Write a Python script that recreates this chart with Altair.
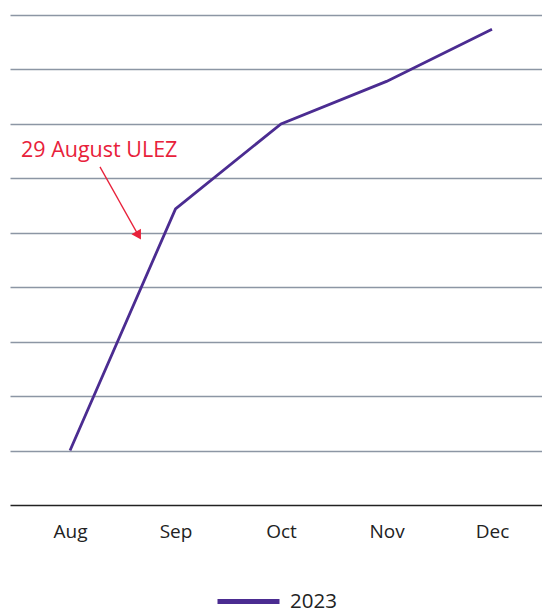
import altair as alt
import pandas as pd
import json

months = ["Aug", "Sep", "Oct", "Nov", "Dec"]
values = [1.0, 5.44, 7.0, 7.78, 8.74]
series = ["2023"] * 5

note_text = ["29 August ULEZ"]
note_x = [-0.465]
note_y = [6.39]

arrow_x = [0.284]
arrow_y = [6.21]
arrow_x2 = [0.655]
arrow_y2 = [4.93]
head_x = [0.650]
head_y = [4.95]

PURPLE = "#4b2c91"
RED = "#e8213a"
FONT = "Open Sans"

df = pd.DataFrame({"idx": list(range(len(months))), "month": months, "value": values, "series": series})
note_df = pd.DataFrame({"text": note_text, "x": note_x, "y": note_y})
arrow_df = pd.DataFrame({"x": arrow_x, "y": arrow_y, "x2": arrow_x2, "y2": arrow_y2})
head_df = pd.DataFrame({"x": head_x, "y": head_y})

xscale = alt.Scale(domain=[-0.569, 4.474], nice=False, zero=False)
yscale = alt.Scale(domain=[0, 9], nice=False)

label_expr = json.dumps(months) + "[datum.value]"

line = alt.Chart(df).mark_line(strokeWidth=2.8).encode(
    x=alt.X("idx:Q", scale=xscale, title=None,
            axis=alt.Axis(values=list(range(len(months))), labelExpr=label_expr, grid=False,
                          ticks=False, domain=True, domainColor="#222222", domainWidth=1.5,
                          labelFont=FONT, labelFontSize=19, labelColor="#222222",
                          labelPadding=17)),
    y=alt.Y("value:Q", scale=yscale, title=None,
            axis=alt.Axis(values=list(range(1, 10)), labels=False, ticks=False, domain=False,
                          grid=True, gridColor="#8c96a4", gridWidth=1.3)),
    color=alt.Color("series:N", scale=alt.Scale(range=[PURPLE]), title=None,
                    legend=alt.Legend(orient="none", legendX=205, legendY=553,
                                      symbolType="stroke", symbolSize=3844, symbolStrokeWidth=5,
                                      labelFont=FONT, labelFontSize=20.5, labelColor="#222222",
                                      labelOffset=8)),
)

note = alt.Chart(note_df).mark_text(align="left", baseline="alphabetic", font=FONT,
                                    fontSize=21.5, color=RED).encode(
    x=alt.X("x:Q", scale=xscale), y=alt.Y("y:Q", scale=yscale), text="text:N")

arrow = alt.Chart(arrow_df).mark_rule(color=RED, strokeWidth=1.3).encode(
    x=alt.X("x:Q", scale=xscale), y=alt.Y("y:Q", scale=yscale), x2="x2:Q", y2="y2:Q")

head = alt.Chart(head_df).mark_point(shape="triangle-up", filled=True, color=RED, opacity=1,
                                     size=120, angle=150).encode(
    x=alt.X("x:Q", scale=xscale), y=alt.Y("y:Q", scale=yscale))

chart = alt.layer(line, arrow, head, note).properties(
    width=532, height=490,
    padding={"left": 2, "top": 7, "right": 0, "bottom": 109},
    autosize=alt.AutoSizeParams(type="none"),
).configure(font=FONT).configure_view(stroke=None)

chart.save("out.html", embed_options={"renderer": "svg", "actions": False})
